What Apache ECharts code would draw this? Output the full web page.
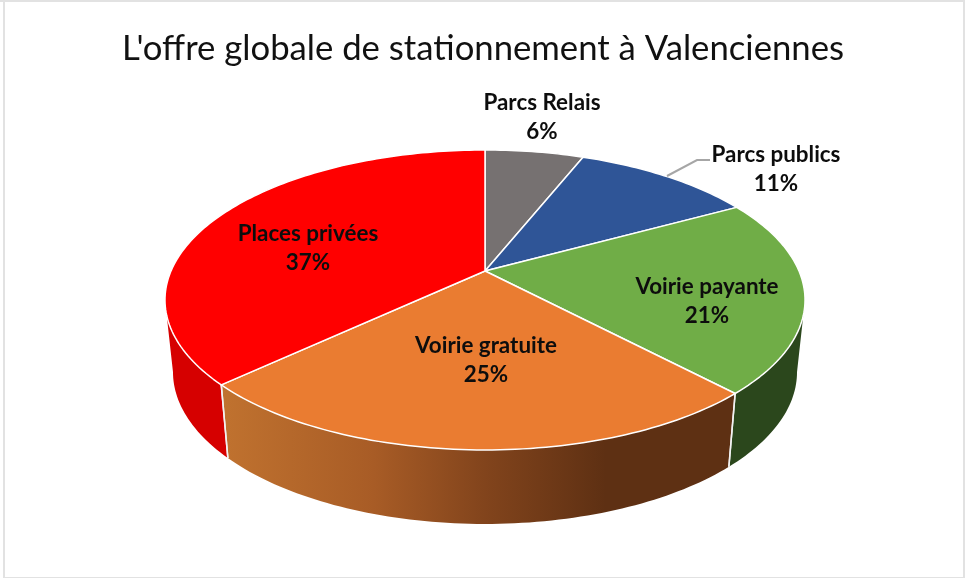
<!DOCTYPE html>
<html><head><meta charset="utf-8">
<style>html,body{margin:0;padding:0;background:#fff}#c{width:965px;height:578px}</style>
<script src="https://cdn.jsdelivr.net/npm/echarts@6/dist/echarts.min.js"></script>
</head><body><div id="c"></div>
<script>
const titleText = "L'offre globale de stationnement à Valenciennes";
const categories = ['Parcs Relais', 'Parcs publics', 'Voirie payante', 'Voirie gratuite', 'Places privées'];
const values = [6, 11, 21, 25, 37];
const faceColors = ['#767171', '#2F5597', '#70AD47', '#EA7C31', '#FF0000'];
const labelCenters = [[542, 117.5], [776, 169.5], [707, 301.5], [486, 360.5], [308, 248.5]];

// Perspective view of a round pie: top rim ellipse, bottom rim ellipse, apex of the slices.
const view = {cx: 485, apexY: 271, k: 0.193, a: 144.4, b: 314,
  topCy: 300, topRx: 320, topRy: 150, botCy: 372, botRx: 312, botRy: 152};
const total = values.reduce((s, v) => s + v, 0);
function rim(theta) {
  const u = Math.sin(theta), v = Math.cos(theta), d = 1 + view.k * v;
  return [view.cx + view.b * u / d, view.apexY - view.a * v / d];
}
function bottomRim(p) {
  const s = (p[0] - view.cx) / view.topRx, c = (view.topCy - p[1]) / view.topRy;
  return [view.cx + view.botRx * s, view.botCy - view.botRy * c];
}
function angles(i) {
  let before = 0;
  for (let j = 0; j < i; j++) before += values[j];
  return [before / total * 2 * Math.PI, (before + values[i]) / total * 2 * Math.PI];
}
function arc(t0, t1) {
  const pts = [], n = Math.max(2, Math.ceil((t1 - t0) / 0.02));
  for (let i = 0; i <= n; i++) pts.push(rim(t0 + (t1 - t0) * i / n));
  return pts;
}
const orangeWall = new echarts.graphic.LinearGradient(222, 0, 727, 0, [
  {offset: 0, color: '#C0722F'}, {offset: 0.3, color: '#A85C26'},
  {offset: 0.52, color: '#82441C'}, {offset: 0.76, color: '#5E3013'}, {offset: 1, color: '#5E3013'}], true);
const wallFill = {2: '#2B471C', 3: orangeWall, 4: '#D60000'};

// true angles where the rim is widest: the drum's visible front lies between them
const frontStart = Math.acos(-view.k);
const frontEnd = 2 * Math.PI - frontStart;

function renderWall(params, api) {
  const i = params.dataIndex, [a0, a1] = angles(i);
  const t0 = Math.max(a0, frontStart), t1 = Math.min(a1, frontEnd);
  if (t1 <= t0 || !wallFill[i]) return {type: 'group', children: []};
  const top = arc(t0, t1), bot = top.map(bottomRim).reverse();
  const children = [{type: 'polygon', shape: {points: top.concat(bot)}, style: {fill: wallFill[i]}, silent: true}];
  // white seam at each slice boundary that falls on the front of the drum
  [a0, a1].forEach(a => {
    if (a > frontStart && a < frontEnd) {
      const p = rim(a), q = bottomRim(p);
      children.push({type: 'line', shape: {x1: p[0], y1: p[1], x2: q[0], y2: q[1]}, z2: 5,
        style: {stroke: '#F2F2F2', lineWidth: 1.5}});
    }
  });
  return {type: 'group', children};
}
function renderFace(params, api) {
  const i = params.dataIndex, [a0, a1] = angles(i);
  return {type: 'polygon',
    shape: {points: [[view.cx, view.apexY]].concat(arc(a0, a1))},
    style: {fill: faceColors[i], stroke: '#FFFFFF', lineWidth: 1.5, lineJoin: 'round'}};
}
function renderLabel(params, api) {
  const i = params.dataIndex, c = labelCenters[i];
  const children = [{type: 'text', x: c[0], y: c[1],
    style: {text: categories[i] + '\n' + values[i] + '%', fill: '#0D0D0D', align: 'center', verticalAlign: 'middle',
      font: 'bold 22.4px Lato', lineHeight: 29.5}}];
  if (i === 1) {
    children.unshift({type: 'polyline', shape: {points: [[667, 176], [697, 160], [710, 160]]},
      style: {stroke: '#A6A6A6', lineWidth: 2, fill: 'none'}});
  }
  return {type: 'group', children};
}
const seriesData = categories.map((n, i) => ({name: n, value: values[i]}));
const frameColor = '#E2E2E2';
const chart = echarts.init(document.getElementById('c'), null, {renderer: 'canvas'});
chart.setOption({
  animation: false,
  backgroundColor: '#fff',
  title: {text: titleText, left: 122, top: 31, padding: 0,
    textStyle: {fontFamily: 'Lato', fontWeight: 'normal', fontSize: 34.7, color: '#111'}},
  tooltip: {show: false},
  graphic: [
    {type: 'rect', shape: {x: 0, y: 0, width: 965, height: 2}, style: {fill: frameColor}},
    {type: 'rect', shape: {x: 3, y: 0, width: 2, height: 578}, style: {fill: frameColor}},
    {type: 'rect', shape: {x: 963, y: 0, width: 2, height: 578}, style: {fill: frameColor}},
    {type: 'rect', shape: {x: 3, y: 577, width: 962, height: 1}, style: {fill: frameColor}}
  ],
  series: [
    {type: 'custom', coordinateSystem: 'none', renderItem: renderWall, data: seriesData, z: 1, silent: true},
    {type: 'custom', coordinateSystem: 'none', renderItem: renderFace, data: seriesData, z: 2, silent: true},
    {type: 'custom', coordinateSystem: 'none', renderItem: renderLabel, data: seriesData, z: 3, silent: true}
  ]
});
</script></body></html>
